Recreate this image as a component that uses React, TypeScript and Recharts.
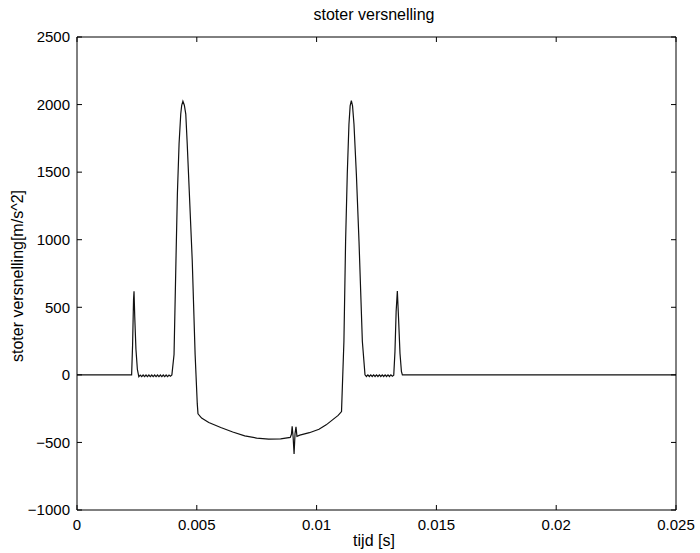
import { LineChart, Line, XAxis, YAxis } from "recharts";

// stoter versnelling: acceleration of the follower over time

type Pt = [number, number]; // [tijd (s), versnelling (m/s^2)]

const flatStart: Pt[] = [
  [0, 0],
  [0.00228, 0],
];

const spike1: Pt[] = [
  [0.00232, 220],
  [0.00236, 560],
  [0.00238, 618],
  [0.00241, 430],
  [0.00246, 190],
  [0.00252, 40],
  [0.00258, -14],
];

const ripple1: Pt[] = [
  [0.00264, -2], [0.0027, -13], [0.00276, -1], [0.00282, -13], [0.00288, -1],
  [0.00294, -13], [0.003, -1], [0.00306, -13], [0.00312, -1], [0.00318, -13],
  [0.00324, -1], [0.0033, -13], [0.00336, -1], [0.00342, -13], [0.00348, -1],
  [0.00354, -13], [0.0036, -1], [0.00366, -13], [0.00372, -1], [0.00378, -13],
  [0.00384, -1], [0.0039, -10], [0.00396, 0],
];

const peak1: Pt[] = [
  [0.00405, 150],
  [0.00413, 845],
  [0.00419, 1340],
  [0.00426, 1710],
  [0.00433, 1930],
  [0.00437, 1995],
  [0.00442, 2025],
  [0.00448, 1995],
  [0.00454, 1930],
  [0.0046, 1710],
  [0.00469, 1340],
  [0.00481, 845],
  [0.00493, 150],
  [0.00502, -215],
  [0.00505, -288],
];

const bowlLeft: Pt[] = [
  [0.0052, -320],
  [0.0055, -352],
  [0.006, -390],
  [0.0065, -423],
  [0.007, -452],
  [0.0075, -468],
  [0.008, -476],
  [0.0085, -474],
  [0.0089, -463],
];

// small disturbance near t = 0.009
const glitch: Pt[] = [
  [0.00895, -440],
  [0.00898, -380],
  [0.00902, -460],
  [0.00906, -585],
  [0.0091, -435],
  [0.00914, -385],
  [0.00918, -455],
];

const bowlRight: Pt[] = [
  [0.0093, -446],
  [0.0097, -428],
  [0.0101, -403],
  [0.0104, -370],
  [0.01065, -335],
  [0.0109, -300],
  [0.01104, -272],
];

const peak2: Pt[] = [
  [0.01114, 247],
  [0.01121, 987],
  [0.01128, 1484],
  [0.01135, 1854],
  [0.0114, 1990],
  [0.01145, 2030],
  [0.0115, 1990],
  [0.01156, 1854],
  [0.01166, 1484],
  [0.01177, 987],
  [0.01191, 247],
  [0.01202, 0],
];

const ripple2: Pt[] = [
  [0.01208, -12], [0.01214, 0], [0.0122, -12], [0.01226, 0], [0.01232, -12],
  [0.01238, 0], [0.01244, -12], [0.0125, 0], [0.01256, -12], [0.01262, 0],
  [0.01268, -12], [0.01274, 0], [0.0128, -12], [0.01286, 0], [0.01292, -12],
  [0.01298, 0], [0.01304, -12], [0.0131, 0], [0.01316, -10],
];

const spike2: Pt[] = [
  [0.01322, -2],
  [0.01327, 170],
  [0.01332, 470],
  [0.01337, 620],
  [0.01342, 420],
  [0.01348, 160],
  [0.01354, 25],
  [0.01358, 0],
];

const flatEnd: Pt[] = [[0.025, 0]];

const xTicks = [0, 0.005, 0.01, 0.015, 0.02, 0.025];
const yTicks = [-1000, -500, 0, 500, 1000, 1500, 2000, 2500];

const data = [
  ...flatStart, ...spike1, ...ripple1, ...peak1, ...bowlLeft, ...glitch,
  ...bowlRight, ...peak2, ...ripple2, ...spike2, ...flatEnd,
].map(([t, a]) => ({ t, a }));

const FONT = '"Liberation Sans", Arial, Helvetica, sans-serif';
const tickStyle = { fontSize: 15, fill: "#000", fontFamily: FONT };
const fmtY = (v: number) => String(v).replace("-", "\u2212");
const blank = () => "";

export default function App() {
  return (
    <div style={{ position: "absolute", left: 0, top: 0, width: 700, height: 553, background: "#fff" }}>
      <LineChart
        width={700}
        height={553}
        data={data}
        margin={{ top: 36, right: 23, bottom: 0, left: 0 }}
      >
        <XAxis
          xAxisId="b"
          dataKey="t"
          type="number"
          domain={[0, 0.025]}
          ticks={xTicks}
          height={43}
          stroke="#000"
          tickSize={-5}
          tickMargin={14}
          tick={tickStyle}
        />
        <XAxis
          xAxisId="top"
          orientation="top"
          dataKey="t"
          type="number"
          domain={[0, 0.025]}
          ticks={xTicks}
          height={1}
          stroke="#000"
          tickSize={-5}
          tickFormatter={blank}
        />
        <YAxis
          yAxisId="l"
          type="number"
          domain={[-1000, 2500]}
          ticks={yTicks}
          width={77}
          stroke="#000"
          tickSize={-5}
          tickMargin={12}
          tick={tickStyle}
          tickFormatter={fmtY}
        />
        <YAxis
          yAxisId="r"
          orientation="right"
          type="number"
          domain={[-1000, 2500]}
          ticks={yTicks}
          width={1}
          stroke="#000"
          tickSize={-5}
          tickFormatter={blank}
        />
        <Line
          xAxisId="b"
          yAxisId="l"
          type="linear"
          dataKey="a"
          stroke="#111"
          strokeWidth={1.2}
          dot={false}
          isAnimationActive={false}
        />
        {/* invisible copy so the mirrored top/right axes get a scale */}
        <Line
          xAxisId="top"
          yAxisId="r"
          type="linear"
          dataKey="a"
          stroke="transparent"
          dot={false}
          isAnimationActive={false}
        />
      </LineChart>
      <div
        style={{
          position: "absolute", left: 274, width: 200, top: 6, textAlign: "center",
          fontFamily: FONT, fontSize: 16, color: "#000",
        }}
      >
        stoter versnelling
      </div>
      <div
        style={{
          position: "absolute", left: 274, width: 200, top: 532, textAlign: "center",
          fontFamily: FONT, fontSize: 16, color: "#000",
        }}
      >
        tijd [s]
      </div>
      <div
        style={{
          position: "absolute", left: 18, top: 276, width: 300, marginLeft: -150, marginTop: -10,
          height: 20, lineHeight: "20px", textAlign: "center", transform: "rotate(-90deg)",
          fontFamily: FONT, fontSize: 16, color: "#000", whiteSpace: "nowrap",
        }}
      >
        stoter versnelling[m/s^2]
      </div>
    </div>
  );
}
